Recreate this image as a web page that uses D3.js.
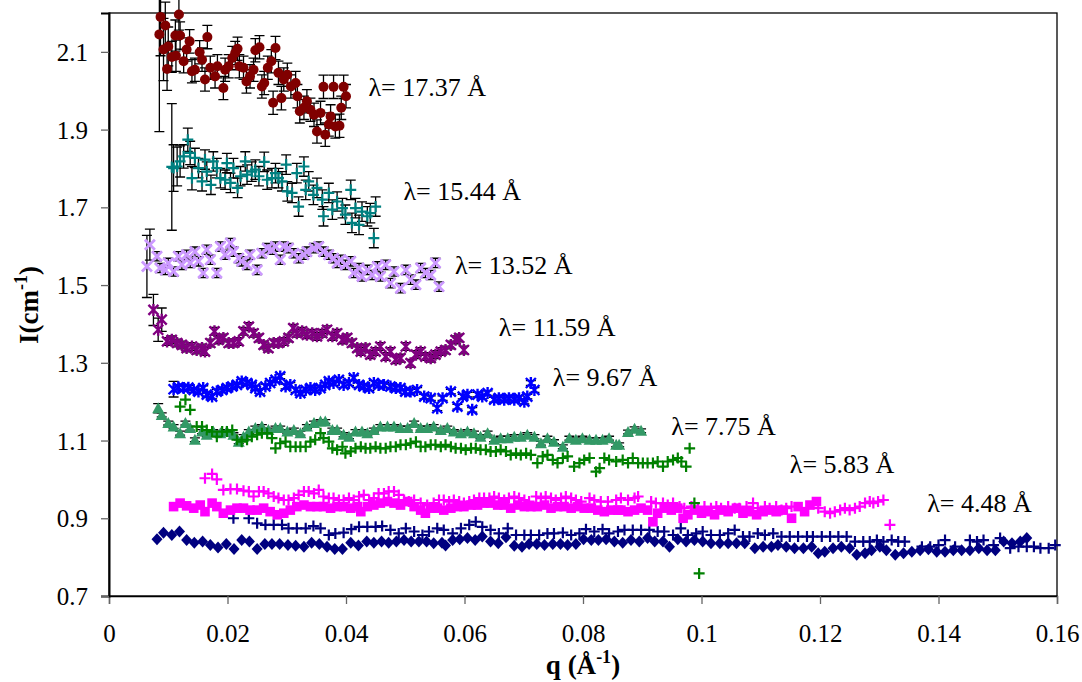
<!DOCTYPE html>
<html><head><meta charset="utf-8">
<script src="https://cdn.jsdelivr.net/npm/d3@7"></script>
<style>body{margin:0;background:#fff}</style>
</head><body><svg id="c" width="1082" height="682"></svg>
<script>
// ---------- data ----------
const xTicks = [0,0.02,0.04,0.06,0.08,0.1,0.12,0.14,0.16];
const xTickLabels = ["0","0.02","0.04","0.06","0.08","0.1","0.12","0.14","0.16"];
const yTicks = [0.7,0.9,1.1,1.3,1.5,1.7,1.9,2.1];
const yTickLabels = ["0.7","0.9","1.1","1.3","1.5","1.7","1.9","2.1"];

const labelTexts = ["λ= 17.37 Å","λ= 15.44 Å","λ= 13.52 Å","λ= 11.59 Å","λ= 9.67 Å","λ= 7.75 Å","λ= 5.83 Å","λ= 4.48 Å"];
const labelQ = [0.0438,0.0497,0.0584,0.0658,0.0749,0.0949,0.1149,0.1381];
const labelI = [1.987,1.720,1.529,1.368,1.241,1.115,1.016,0.917];

// [q, I, error]
const red17 = [[0.0087,2.190,0.10],[0.0085,2.145,0.25],[0.0095,2.168,0.06],[0.0092,2.106,0.08],[0.0098,2.056,0.055],[0.0100,2.114,0.05],[0.0106,2.087,0.04],[0.0112,2.142,0.04],[0.0113,2.090,0.04],[0.0118,2.196,0.04],[0.0120,2.142,0.035],[0.0126,2.076,0.03],[0.0131,2.106,0.03],[0.0136,2.127,0.03],[0.0140,2.050,0.03],[0.0145,2.054,0.03],[0.0153,2.099,0.03],[0.0157,2.080,0.03],[0.0162,2.029,0.03],[0.0166,2.138,0.03],[0.0171,2.059,0.03],[0.0179,2.037,0.03],[0.0183,2.063,0.03],[0.0193,2.007,0.03],[0.0196,2.054,0.03],[0.0202,2.063,0.03],[0.0208,2.084,0.03],[0.0213,2.097,0.03],[0.0217,2.108,0.03],[0.0220,2.063,0.03],[0.0227,2.059,0.03],[0.0232,2.024,0.03],[0.0238,2.037,0.03],[0.0244,2.054,0.03],[0.0247,2.104,0.03],[0.0254,2.112,0.03],[0.0258,2.011,0.03],[0.0262,2.020,0.03],[0.0268,2.059,0.03],[0.0274,2.076,0.03],[0.0277,1.969,0.03],[0.0281,2.110,0.03],[0.0286,2.046,0.03],[0.0291,1.981,0.03],[0.0295,2.029,0.03],[0.0301,2.041,0.03],[0.0307,2.011,0.03],[0.0315,2.020,0.03],[0.0318,1.986,0.03],[0.0322,1.947,0.03],[0.0329,1.956,0.03],[0.0334,1.973,0.03],[0.0340,1.951,0.03],[0.0346,1.938,0.03],[0.0351,1.895,0.03],[0.0357,1.943,0.03],[0.0362,2.010,0.03],[0.0365,1.887,0.03],[0.0371,1.913,0.03],[0.0374,1.934,0.03],[0.0379,2.010,0.03],[0.0382,1.908,0.03],[0.0389,1.910,0.03],[0.0392,1.956,0.03],[0.0396,2.010,0.03],[0.0400,1.986,0.03]];

const teal15 = [[0.0106,1.804,0.163],[0.0109,1.801,0.06],[0.0115,1.805,0.05],[0.0120,1.818,0.04],[0.0126,1.831,0.03],[0.0133,1.874,0.03],[0.0137,1.840,0.03],[0.0140,1.775,0.03],[0.0145,1.827,0.025],[0.0151,1.801,0.025],[0.0157,1.767,0.025],[0.0162,1.823,0.025],[0.0165,1.792,0.025],[0.0172,1.758,0.025],[0.0176,1.818,0.025],[0.0182,1.801,0.025],[0.0188,1.775,0.025],[0.0196,1.771,0.025],[0.0199,1.814,0.025],[0.0205,1.763,0.025],[0.0210,1.801,0.025],[0.0217,1.750,0.025],[0.0222,1.780,0.025],[0.0230,1.818,0.025],[0.0233,1.784,0.025],[0.0241,1.792,0.025],[0.0247,1.797,0.025],[0.0253,1.780,0.025],[0.0262,1.817,0.025],[0.0267,1.771,0.025],[0.0275,1.775,0.025],[0.0281,1.788,0.025],[0.0286,1.775,0.025],[0.0292,1.767,0.025],[0.0299,1.810,0.025],[0.0301,1.741,0.025],[0.0309,1.737,0.025],[0.0317,1.788,0.025],[0.0320,1.702,0.025],[0.0329,1.805,0.025],[0.0332,1.745,0.025],[0.0337,1.767,0.025],[0.0345,1.732,0.025],[0.0351,1.750,0.025],[0.0360,1.720,0.025],[0.0362,1.677,0.025],[0.0371,1.737,0.025],[0.0377,1.694,0.025],[0.0385,1.715,0.025],[0.0394,1.698,0.025],[0.0399,1.681,0.025],[0.0408,1.745,0.025],[0.0410,1.660,0.025],[0.0416,1.698,0.025],[0.0422,1.655,0.025],[0.0427,1.689,0.025],[0.0436,1.677,0.025],[0.0441,1.685,0.025],[0.0447,1.621,0.025],[0.0450,1.702,0.025]];

const lavErr = 0.012;
const lav13 = [[0.0064,1.548,0.08],[0.0069,1.604,0.04],[0.0081,1.574],[0.0086,1.544],[0.0095,1.539],[0.0100,1.557],[0.0109,1.535],[0.0117,1.574],[0.0123,1.552],[0.0131,1.578],[0.0137,1.557],[0.0145,1.586],[0.0151,1.561],[0.0159,1.531],[0.0165,1.591],[0.0171,1.565],[0.0182,1.531],[0.0188,1.599],[0.0196,1.578],[0.0205,1.608],[0.0210,1.586],[0.0219,1.569],[0.0224,1.561],[0.0233,1.552],[0.0238,1.578],[0.0250,1.539],[0.0258,1.582],[0.0267,1.595],[0.0275,1.591],[0.0281,1.599],[0.0289,1.565],[0.0295,1.599],[0.0303,1.595],[0.0312,1.582],[0.0320,1.569],[0.0329,1.578],[0.0334,1.586],[0.0346,1.595],[0.0354,1.599],[0.0362,1.586],[0.0371,1.578],[0.0379,1.569],[0.0385,1.557],[0.0391,1.565],[0.0399,1.552],[0.0408,1.561],[0.0413,1.531],[0.0422,1.544],[0.0427,1.522],[0.0436,1.539],[0.0444,1.526],[0.0453,1.548],[0.0458,1.522],[0.0467,1.552],[0.0475,1.505],[0.0481,1.535],[0.0492,1.492],[0.0501,1.539],[0.0509,1.514],[0.0518,1.501],[0.0526,1.544],[0.0534,1.531],[0.0543,1.526],[0.0551,1.557],[0.0557,1.496]];

const purErr = 0.01;
const pur11 = [[0.0075,1.436,0.04],[0.0083,1.385,0.03],[0.0089,1.411,0.03],[0.0098,1.355],[0.0106,1.359],[0.0115,1.351],[0.0123,1.346],[0.0131,1.338],[0.0140,1.342],[0.0148,1.333],[0.0157,1.338],[0.0162,1.329],[0.0171,1.351],[0.0178,1.381],[0.0185,1.359],[0.0193,1.364],[0.0202,1.351],[0.0210,1.351],[0.0219,1.355],[0.0227,1.381],[0.0236,1.393],[0.0244,1.376],[0.0253,1.364],[0.0261,1.346],[0.0269,1.338],[0.0278,1.351],[0.0286,1.351],[0.0295,1.355],[0.0303,1.364],[0.0311,1.389],[0.0317,1.376],[0.0326,1.381],[0.0334,1.372],[0.0343,1.376],[0.0351,1.368],[0.0360,1.376],[0.0368,1.385],[0.0377,1.368],[0.0385,1.376],[0.0394,1.359],[0.0402,1.364],[0.0410,1.351],[0.0419,1.338],[0.0425,1.329],[0.0433,1.338],[0.0441,1.321],[0.0450,1.329],[0.0458,1.342],[0.0467,1.316],[0.0475,1.329],[0.0484,1.308],[0.0492,1.312],[0.0501,1.342],[0.0509,1.299],[0.0518,1.321],[0.0526,1.329],[0.0534,1.316],[0.0543,1.312],[0.0551,1.321],[0.0560,1.329],[0.0568,1.333],[0.0577,1.346],[0.0585,1.359],[0.0591,1.364],[0.0599,1.333]];

const blueErr = 0.006;
const blue9 = [[0.0109,1.232,0.02],[0.0117,1.237],[0.0126,1.235],[0.0134,1.236],[0.0143,1.230],[0.0151,1.226],[0.0159,1.235],[0.0165,1.218],[0.0174,1.213],[0.0182,1.226],[0.0191,1.230],[0.0199,1.235],[0.0208,1.239],[0.0216,1.243],[0.0224,1.252],[0.0233,1.248],[0.0241,1.243],[0.0247,1.235],[0.0255,1.226],[0.0264,1.239],[0.0272,1.248],[0.0281,1.256],[0.0289,1.265],[0.0298,1.239],[0.0306,1.243],[0.0315,1.230],[0.0323,1.222],[0.0332,1.230],[0.0340,1.235],[0.0348,1.230],[0.0357,1.235],[0.0365,1.243],[0.0371,1.252],[0.0379,1.248],[0.0388,1.256],[0.0396,1.243],[0.0405,1.248],[0.0413,1.261],[0.0422,1.243],[0.0430,1.239],[0.0439,1.235],[0.0447,1.248],[0.0455,1.243],[0.0464,1.243],[0.0475,1.239],[0.0484,1.235],[0.0492,1.235],[0.0500,1.226],[0.0509,1.226],[0.0520,1.230],[0.0532,1.213],[0.0543,1.209],[0.0554,1.183],[0.0563,1.209],[0.0577,1.226],[0.0588,1.187],[0.0597,1.213],[0.0605,1.218],[0.0613,1.179],[0.0622,1.218],[0.0630,1.213],[0.0639,1.222],[0.0650,1.205],[0.0658,1.209],[0.0667,1.205],[0.0675,1.209],[0.0684,1.205],[0.0692,1.209],[0.0701,1.200],[0.0706,1.213],[0.0712,1.248],[0.0718,1.230]];

const triErr = 0.005;
const tri7 = [[0.0083,1.183,0.012],[0.0089,1.166],[0.0100,1.145],[0.0109,1.136],[0.0120,1.119],[0.0129,1.145],[0.0137,1.132],[0.0145,1.102],[0.0157,1.123],[0.0165,1.115],[0.0176,1.123],[0.0188,1.119],[0.0199,1.123],[0.0210,1.115],[0.0219,1.097],[0.0227,1.110],[0.0236,1.123],[0.0247,1.132],[0.0258,1.136],[0.0269,1.127],[0.0281,1.132],[0.0289,1.132],[0.0301,1.123],[0.0312,1.127],[0.0323,1.119],[0.0334,1.136],[0.0346,1.145],[0.0357,1.149],[0.0365,1.149],[0.0377,1.127],[0.0385,1.127],[0.0396,1.115],[0.0405,1.110],[0.0416,1.123],[0.0427,1.123],[0.0436,1.119],[0.0447,1.127],[0.0458,1.136],[0.0470,1.136],[0.0481,1.136],[0.0492,1.132],[0.0504,1.132],[0.0515,1.145],[0.0526,1.132],[0.0537,1.132],[0.0548,1.136],[0.0560,1.127],[0.0571,1.132],[0.0582,1.123],[0.0594,1.119],[0.0605,1.123],[0.0616,1.119],[0.0627,1.110],[0.0639,1.119],[0.0650,1.102],[0.0661,1.106],[0.0673,1.106],[0.0684,1.110],[0.0695,1.110],[0.0706,1.115],[0.0718,1.110],[0.0729,1.093],[0.0740,1.106],[0.0751,1.097],[0.0766,1.084],[0.0777,1.106],[0.0788,1.102],[0.0799,1.106],[0.0811,1.102],[0.0822,1.102],[0.0833,1.102],[0.0844,1.106],[0.0856,1.089],[0.0861,1.089],[0.0876,1.122],[0.0887,1.130],[0.0898,1.125]];

const plus7 = [[0.0120,1.187],[0.0129,1.205],[0.0137,1.179],[0.0148,1.136],[0.0157,1.136],[0.0165,1.127],[0.0174,1.123],[0.0182,1.110],[0.0191,1.123],[0.0199,1.123],[0.0208,1.127],[0.0216,1.102],[0.0224,1.097],[0.0233,1.102],[0.0241,1.110],[0.0250,1.115],[0.0258,1.119],[0.0267,1.119],[0.0275,1.106],[0.0281,1.080],[0.0289,1.093],[0.0298,1.097],[0.0306,1.084],[0.0315,1.084],[0.0323,1.084],[0.0332,1.084],[0.0340,1.097],[0.0348,1.102],[0.0357,1.119],[0.0362,1.106],[0.0371,1.097],[0.0377,1.080],[0.0385,1.076],[0.0394,1.084],[0.0399,1.067],[0.0408,1.072],[0.0416,1.080],[0.0425,1.084],[0.0433,1.080],[0.0441,1.080],[0.0450,1.084],[0.0458,1.080],[0.0467,1.080],[0.0475,1.084],[0.0484,1.084],[0.0492,1.089],[0.0501,1.089],[0.0509,1.093],[0.0518,1.097],[0.0526,1.084],[0.0534,1.084],[0.0543,1.089],[0.0551,1.089],[0.0560,1.084],[0.0568,1.089],[0.0577,1.084],[0.0585,1.080],[0.0594,1.080],[0.0602,1.076],[0.0611,1.080],[0.0619,1.080],[0.0627,1.076],[0.0636,1.076],[0.0644,1.072],[0.0653,1.072],[0.0661,1.076],[0.0670,1.072],[0.0678,1.063],[0.0687,1.067],[0.0695,1.063],[0.0704,1.067],[0.0712,1.063],[0.0723,1.042],[0.0732,1.059],[0.0740,1.063],[0.0749,1.050],[0.0757,1.042],[0.0766,1.055],[0.0774,1.059],[0.0785,1.033],[0.0794,1.042],[0.0802,1.050],[0.0811,1.055],[0.0822,1.020],[0.0828,1.029],[0.0836,1.055],[0.0844,1.050],[0.0856,1.046],[0.0867,1.050],[0.0876,1.042],[0.0884,1.055],[0.0893,1.042],[0.0901,1.042],[0.0909,1.042],[0.0918,1.042],[0.0926,1.046],[0.0935,1.033],[0.0943,1.046],[0.0952,1.050],[0.0960,1.055],[0.0966,1.046],[0.0974,1.033],[0.0980,1.080],[0.0988,0.939],[0.0996,0.758]];

const sq5 = [[0.0109,0.930],[0.0120,0.939],[0.0131,0.932],[0.0143,0.926],[0.0154,0.934],[0.0162,0.917],[0.0174,0.939],[0.0182,0.930],[0.0193,0.913],[0.0205,0.921],[0.0216,0.926],[0.0227,0.926],[0.0238,0.921],[0.0250,0.921],[0.0261,0.926],[0.0272,0.917],[0.0284,0.909],[0.0295,0.913],[0.0306,0.921],[0.0317,0.930],[0.0329,0.934],[0.0340,0.930],[0.0351,0.930],[0.0362,0.930],[0.0374,0.926],[0.0385,0.930],[0.0396,0.930],[0.0408,0.926],[0.0419,0.930],[0.0425,0.917],[0.0436,0.930],[0.0447,0.934],[0.0458,0.939],[0.0470,0.943],[0.0481,0.939],[0.0492,0.934],[0.0504,0.943],[0.0515,0.930],[0.0526,0.921],[0.0534,0.913],[0.0543,0.926],[0.0554,0.926],[0.0565,0.921],[0.0577,0.926],[0.0588,0.930],[0.0599,0.930],[0.0611,0.934],[0.0622,0.934],[0.0633,0.939],[0.0644,0.939],[0.0656,0.934],[0.0667,0.934],[0.0678,0.926],[0.0690,0.934],[0.0701,0.930],[0.0712,0.930],[0.0723,0.930],[0.0735,0.934],[0.0746,0.926],[0.0757,0.930],[0.0768,0.930],[0.0780,0.926],[0.0791,0.930],[0.0802,0.926],[0.0814,0.926],[0.0825,0.921],[0.0836,0.917],[0.0847,0.921],[0.0859,0.921],[0.0864,0.921],[0.0876,0.917],[0.0887,0.921],[0.0898,0.926],[0.0909,0.921],[0.0918,0.891],[0.0926,0.913],[0.0937,0.926],[0.0949,0.921],[0.0960,0.926],[0.0969,0.900],[0.0977,0.909],[0.0988,0.921],[0.1000,0.913],[0.1011,0.917],[0.1022,0.909],[0.1033,0.921],[0.1045,0.917],[0.1059,0.926],[0.1070,0.913],[0.1081,0.917],[0.1093,0.909],[0.1104,0.917],[0.1115,0.921],[0.1126,0.917],[0.1138,0.921],[0.1152,0.900],[0.1163,0.930],[0.1174,0.917],[0.1183,0.934],[0.1194,0.943]];

const plus5 = [[0.0162,1.003],[0.0174,1.014],[0.0182,1.000],[0.0193,0.973],[0.0205,0.975],[0.0216,0.975],[0.0227,0.971],[0.0236,0.969],[0.0244,0.956],[0.0253,0.969],[0.0261,0.969],[0.0269,0.964],[0.0278,0.956],[0.0286,0.952],[0.0295,0.947],[0.0303,0.947],[0.0312,0.952],[0.0320,0.960],[0.0329,0.969],[0.0337,0.969],[0.0346,0.964],[0.0354,0.973],[0.0362,0.956],[0.0371,0.952],[0.0379,0.952],[0.0388,0.947],[0.0396,0.947],[0.0405,0.952],[0.0413,0.947],[0.0422,0.956],[0.0430,0.960],[0.0439,0.947],[0.0447,0.952],[0.0455,0.964],[0.0464,0.964],[0.0472,0.969],[0.0481,0.969],[0.0489,0.960],[0.0498,0.947],[0.0506,0.943],[0.0515,0.947],[0.0526,0.939],[0.0537,0.934],[0.0548,0.939],[0.0557,0.947],[0.0565,0.947],[0.0574,0.943],[0.0582,0.947],[0.0591,0.943],[0.0599,0.939],[0.0608,0.943],[0.0616,0.947],[0.0625,0.952],[0.0633,0.952],[0.0642,0.952],[0.0650,0.956],[0.0658,0.952],[0.0667,0.947],[0.0675,0.952],[0.0684,0.956],[0.0692,0.952],[0.0701,0.947],[0.0709,0.943],[0.0721,0.956],[0.0729,0.952],[0.0737,0.956],[0.0746,0.952],[0.0754,0.947],[0.0763,0.952],[0.0771,0.956],[0.0780,0.952],[0.0788,0.947],[0.0797,0.943],[0.0811,0.952],[0.0819,0.947],[0.0830,0.943],[0.0842,0.943],[0.0856,0.947],[0.0864,0.952],[0.0876,0.947],[0.0887,0.952],[0.0893,0.956],[0.0915,0.943],[0.0923,0.939],[0.0935,0.939],[0.0943,0.934],[0.0952,0.939],[0.0963,0.930],[0.0971,0.926],[0.0983,0.930],[0.0994,0.926],[0.1005,0.930],[0.1016,0.926],[0.1025,0.930],[0.1033,0.926],[0.1045,0.930],[0.1056,0.926],[0.1064,0.926],[0.1076,0.930],[0.1087,0.939],[0.1095,0.926],[0.1107,0.930],[0.1115,0.926],[0.1126,0.930],[0.1135,0.921],[0.1143,0.926],[0.1152,0.930],[0.1197,0.926],[0.1208,0.917],[0.1217,0.913],[0.1225,0.917],[0.1234,0.921],[0.1242,0.926],[0.1250,0.921],[0.1259,0.926],[0.1267,0.930],[0.1276,0.939],[0.1284,0.943],[0.1290,0.939],[0.1298,0.943],[0.1307,0.947],[0.1318,0.883]];

const dia4 = [[0.0081,0.846],[0.0092,0.863],[0.0106,0.857],[0.0119,0.866],[0.0131,0.844],[0.0144,0.837],[0.0158,0.840],[0.0171,0.831],[0.0184,0.825],[0.0198,0.834],[0.0211,0.821],[0.0224,0.844],[0.0237,0.840],[0.0250,0.821],[0.0263,0.834],[0.0275,0.834],[0.0288,0.834],[0.0302,0.831],[0.0315,0.829],[0.0329,0.827],[0.0342,0.837],[0.0355,0.834],[0.0368,0.827],[0.0381,0.821],[0.0394,0.821],[0.0408,0.837],[0.0421,0.830],[0.0435,0.840],[0.0447,0.837],[0.0460,0.840],[0.0472,0.837],[0.0485,0.840],[0.0498,0.844],[0.0510,0.840],[0.0523,0.840],[0.0536,0.840],[0.0548,0.836],[0.0562,0.837],[0.0568,0.830],[0.0580,0.844],[0.0592,0.846],[0.0605,0.849],[0.0618,0.844],[0.0630,0.853],[0.0644,0.840],[0.0657,0.836],[0.0670,0.851],[0.0684,0.829],[0.0697,0.827],[0.0709,0.834],[0.0722,0.834],[0.0735,0.831],[0.0749,0.834],[0.0762,0.834],[0.0774,0.831],[0.0788,0.834],[0.0801,0.846],[0.0814,0.844],[0.0826,0.844],[0.0839,0.846],[0.0853,0.840],[0.0867,0.837],[0.0881,0.844],[0.0895,0.840],[0.0909,0.849],[0.0921,0.840],[0.0935,0.840],[0.0946,0.827],[0.0960,0.846],[0.0974,0.840],[0.0988,0.844],[0.1002,0.840],[0.1016,0.836],[0.1031,0.836],[0.1045,0.836],[0.1059,0.836],[0.1073,0.836],[0.1090,0.823],[0.1104,0.827],[0.1118,0.827],[0.1129,0.831],[0.1143,0.827],[0.1157,0.823],[0.1172,0.823],[0.1186,0.827],[0.1197,0.810],[0.1208,0.814],[0.1222,0.823],[0.1236,0.827],[0.1250,0.823],[0.1262,0.806],[0.1276,0.810],[0.1287,0.818],[0.1301,0.827],[0.1312,0.818],[0.1327,0.806],[0.1341,0.810],[0.1355,0.814],[0.1369,0.818],[0.1383,0.820],[0.1397,0.814],[0.1411,0.814],[0.1425,0.818],[0.1439,0.818],[0.1453,0.818],[0.1468,0.823],[0.1482,0.818],[0.1496,0.818],[0.1510,0.840],[0.1524,0.836],[0.1538,0.840],[0.1549,0.849]];

const plus4 = [[0.0210,0.900],[0.0236,0.900],[0.0250,0.887],[0.0264,0.883],[0.0278,0.883],[0.0292,0.883],[0.0303,0.874],[0.0317,0.874],[0.0332,0.874],[0.0345,0.880],[0.0357,0.874],[0.0371,0.857],[0.0382,0.861],[0.0396,0.863],[0.0409,0.872],[0.0422,0.878],[0.0436,0.878],[0.0450,0.878],[0.0461,0.880],[0.0475,0.870],[0.0489,0.861],[0.0501,0.874],[0.0515,0.866],[0.0529,0.857],[0.0540,0.866],[0.0554,0.874],[0.0565,0.870],[0.0580,0.861],[0.0594,0.874],[0.0608,0.883],[0.0619,0.891],[0.0630,0.878],[0.0644,0.870],[0.0658,0.861],[0.0673,0.874],[0.0687,0.857],[0.0701,0.857],[0.0712,0.857],[0.0726,0.857],[0.0740,0.861],[0.0751,0.861],[0.0766,0.863],[0.0780,0.857],[0.0794,0.861],[0.0805,0.872],[0.0819,0.866],[0.0833,0.872],[0.0844,0.861],[0.0859,0.866],[0.0870,0.870],[0.0884,0.870],[0.0898,0.870],[0.0912,0.870],[0.0926,0.866],[0.0937,0.866],[0.0952,0.857],[0.0965,0.874],[0.0977,0.857],[0.0991,0.861],[0.1002,0.866],[0.1016,0.857],[0.1031,0.857],[0.1045,0.861],[0.1056,0.870],[0.1070,0.853],[0.1081,0.853],[0.1095,0.861],[0.1107,0.857],[0.1121,0.861],[0.1135,0.853],[0.1149,0.853],[0.1163,0.853],[0.1178,0.853],[0.1188,0.853],[0.1203,0.853],[0.1217,0.853],[0.1231,0.853],[0.1245,0.853],[0.1259,0.840],[0.1273,0.840],[0.1284,0.840],[0.1296,0.844],[0.1307,0.840],[0.1321,0.844],[0.1332,0.840],[0.1343,0.840],[0.1372,0.827],[0.1386,0.827],[0.1400,0.831],[0.1411,0.844],[0.1428,0.827],[0.1453,0.844],[0.1465,0.840],[0.1476,0.844],[0.1493,0.831],[0.1504,0.849],[0.1521,0.823],[0.1535,0.827],[0.1549,0.827],[0.1561,0.827],[0.1572,0.823],[0.1586,0.823],[0.1597,0.831]];

// ---------- chart ----------
const W = 1082, H = 682, m = {l:109, t:13, r:25, b:86};
const svg = d3.select("#c");
const x = d3.scaleLinear().domain([0, 0.16]).range([m.l, W - m.r]);
const y = d3.scaleLinear().domain([0.7, 2.2]).range([H - m.b, m.t]);
const FONT = "'Liberation Serif','Times New Roman',serif";

// frame
svg.append("rect").attr("x", m.l).attr("y", m.t)
  .attr("width", W - m.l - m.r).attr("height", H - m.t - m.b)
  .attr("fill", "none").attr("stroke", "#000").attr("stroke-width", 1.3);

// axes
const xAx = svg.append("g").attr("transform", `translate(0,${H - m.b})`)
  .call(d3.axisBottom(x).tickValues(xTicks).tickSize(8).tickFormat((d,i) => xTickLabels[i]));
xAx.select(".domain").attr("stroke", "#000").attr("stroke-width", 1.3);
xAx.selectAll(".tick line").attr("stroke", "#666").attr("stroke-width", 1.3);
xAx.selectAll(".tick text").attr("y", 46).attr("dy", 0)
  .attr("font-family", FONT).attr("font-size", 25).attr("fill", "#000");

const yAx = svg.append("g").attr("transform", `translate(${m.l},0)`)
  .call(d3.axisLeft(y).tickValues(yTicks).tickSize(8).tickFormat((d,i) => yTickLabels[i]));
yAx.select(".domain").attr("stroke", "#000").attr("stroke-width", 2);
yAx.selectAll(".tick line").attr("stroke", "#666").attr("stroke-width", 1.3);
yAx.selectAll(".tick text").attr("x", -21).attr("dy", "0.34em")
  .attr("font-family", FONT).attr("font-size", 25).attr("fill", "#000");

// marker shapes
const shapes = {
  circle: g => g.append("circle").attr("r", 5),
  plus: g => g.append("path").attr("d", "M-5.5,0H5.5M0,-5.5V5.5").attr("fill", "none").attr("stroke-width", 2.2),
  x: g => g.append("path").attr("d", "M-5,-5L5,5M-5,5L5,-5").attr("fill", "none").attr("stroke-width", 2.8),
  star: g => g.append("path").attr("d", "M-5,-5L5,5M-5,5L5,-5M0,-6V6").attr("fill", "none").attr("stroke-width", 2.4),
  tri: g => g.append("path").attr("d", "M0,-6L6,5H-6Z"),
  square: g => g.append("rect").attr("x", -4.8).attr("y", -4.8).attr("width", 9.6).attr("height", 9.6),
  diamond: g => g.append("path").attr("d", "M0,-6L5.5,0L0,6L-5.5,0Z")
};
const filled = {circle:true, tri:true, square:true, diamond:true};

function drawSeries(data, shape, color, errDefault) {
  const g = svg.append("g");
  if (errDefault !== undefined) {
    const eg = g.append("g").attr("stroke", "#000").attr("stroke-width", 1.3).attr("fill", "none");
    data.forEach(d => {
      const e = d[2] !== undefined ? d[2] : errDefault;
      const cx = x(d[0]), y1 = y(d[1] - e), y2 = y(d[1] + e);
      eg.append("path").attr("d", `M${cx},${y1}V${y2}M${cx-5},${y1}H${cx+5}M${cx-5},${y2}H${cx+5}`);
    });
  }
  const mg = g.append("g");
  data.forEach(d => {
    const s = mg.append("g").attr("transform", `translate(${x(d[0])},${y(d[1])})`);
    const el = shapes[shape](s);
    if (filled[shape]) el.attr("fill", color); else el.attr("stroke", color);
  });
}

drawSeries(dia4, "diamond", "#000080");
drawSeries(plus4, "plus", "#000080");
drawSeries(sq5, "square", "#FF00FF");
drawSeries(plus5, "plus", "#FF00FF");
drawSeries(tri7, "tri", "#339966", triErr);
drawSeries(plus7, "plus", "#008000");
drawSeries(blue9, "star", "#0000FF", blueErr);
drawSeries(pur11, "star", "#800080", purErr);
drawSeries(lav13, "x", "#CC99FF", lavErr);
drawSeries(teal15, "plus", "#008080", 0.025);
drawSeries(red17, "circle", "#800000", 0.03);

// wavelength labels
labelTexts.forEach((t, i) => {
  svg.append("text").attr("x", x(labelQ[i])).attr("y", y(labelI[i]))
    .attr("font-family", FONT).attr("font-size", 26).attr("fill", "#000").text(t);
});

// axis titles
const xt = svg.append("text").attr("x", (m.l + W - m.r) / 2).attr("y", 674)
  .attr("text-anchor", "middle").attr("font-family", FONT).attr("font-size", 27)
  .attr("font-weight", "bold").attr("fill", "#000");
xt.append("tspan").text("q (Å");
xt.append("tspan").attr("dy", -11).attr("font-size", 18).text("-1");
xt.append("tspan").attr("dy", 11).text(")");

const yt = svg.append("text").attr("transform", "translate(38,305) rotate(-90)")
  .attr("text-anchor", "middle").attr("font-family", FONT).attr("font-size", 27)
  .attr("font-weight", "bold").attr("fill", "#000");
yt.append("tspan").text("I(cm");
yt.append("tspan").attr("dy", -11).attr("font-size", 18).text("-1");
yt.append("tspan").attr("dy", 11).text(")");
</script>
</body></html>
